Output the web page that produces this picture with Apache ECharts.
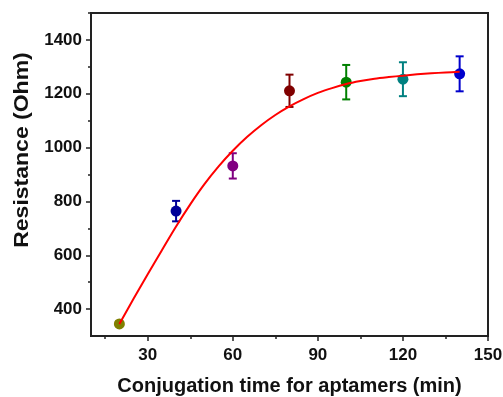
<!DOCTYPE html>
<html>
<head>
<meta charset="utf-8">
<script src="https://cdn.jsdelivr.net/npm/echarts@6/dist/echarts.min.js"></script>
<style>
  html, body { margin: 0; padding: 0; background: #fff; }
  #chart { width: 503px; height: 397px; }
</style>
</head>
<body>
<div id="chart"></div>
<script>
// measured points (min, Ohm, +/- error)
const times = [20, 40, 60, 80, 100, 120, 140]
const resistance = [345, 764, 932, 1211, 1243, 1254, 1274]
const errors = [8, 38, 47, 60, 64, 63, 65]
const pointColors = ['#808000', '#000099', '#800080', '#800000', '#008000', '#008080', '#0000cc']

// fitted curve
const fitTimes = [20, 25, 30, 35, 40, 45, 50, 55, 60, 65, 70, 75, 80, 85, 90, 95, 100, 105, 110, 115, 120, 125, 130, 135, 140]
const fitValues = [345, 438, 529, 619, 707, 789, 864, 930, 988, 1039, 1083, 1121, 1153, 1180, 1203, 1221, 1236, 1247, 1256, 1262, 1267, 1272, 1276, 1279, 1282]

// ticks
const xMajor = [30, 60, 90, 120, 150]
const xMinor = [15, 45, 75, 105, 135]
const yMajor = [400, 600, 800, 1000, 1200, 1400]
const yMinor = [500, 700, 900, 1100, 1300, 1500]

const chart = echarts.init(document.getElementById('chart'))
const font = 'Arial, "Liberation Sans", sans-serif'
const axisColor = '#222'

const baseX = {
  type: 'value', min: 10, max: 150,
  splitLine: { show: false }
}
const baseY = {
  type: 'value', min: 300, max: 1500,
  splitLine: { show: false }
}

const option = {
  backgroundColor: '#fff',
  animation: false,
  grid: {
    left: 91, right: 15, top: 13, bottom: 61,
    outerBoundsMode: 'none',
    containLabel: false,
    show: true, borderColor: axisColor, borderWidth: 2
  },
  xAxis: [
    {
      ...baseX,
      axisLine: { lineStyle: { color: axisColor, width: 2 } },
      axisTick: { inside: false, length: 5, customValues: xMajor, lineStyle: { color: axisColor, width: 1.5 } },
      axisLabel: {
        customValues: xMajor, margin: 11,
        formatter: (v) => String(v),
        color: '#111', fontFamily: font, fontWeight: 'bold', fontSize: 17
      },
      name: 'Conjugation time for aptamers (min)',
      nameLocation: 'middle', nameGap: 40,
      nameTextStyle: { color: '#111', fontFamily: font, fontWeight: 'bold', fontSize: 20 }
    },
    {
      ...baseX,
      position: 'bottom',
      axisLine: { show: false },
      axisTick: { length: 3, customValues: xMinor, lineStyle: { color: axisColor, width: 1.5 } },
      axisLabel: { show: false }
    }
  ],
  yAxis: [
    {
      ...baseY,
      axisLine: { show: true, lineStyle: { color: axisColor, width: 2 } },
      axisTick: { show: true, length: 5, customValues: yMajor, lineStyle: { color: axisColor, width: 1.5 } },
      axisLabel: {
        customValues: yMajor, margin: 9,
        formatter: (v) => String(v),
        color: '#111', fontFamily: font, fontWeight: 'bold', fontSize: 17
      }
    },
    {
      ...baseY,
      position: 'left',
      axisLine: { show: false },
      axisTick: { show: true, length: 3, customValues: yMinor, lineStyle: { color: axisColor, width: 1.5 } },
      axisLabel: { show: false }
    }
  ],
  graphic: [{
    type: 'text',
    x: 22, y: 150,
    rotation: Math.PI / 2,
    scaleX: 1.15,
    style: {
      text: 'Resistance (Ohm)',
      fill: '#111',
      font: 'bold 20px Arial, "Liberation Sans", sans-serif',
      align: 'center', verticalAlign: 'middle'
    }
  }],
  series: [
    {
      type: 'custom',
      z: 3,
      data: times.map((t, i) => [t, resistance[i], errors[i]]),
      renderItem: function (params, api) {
        const x = api.value(0)
        const y = api.value(1)
        const e = api.value(2)
        const top = api.coord([x, y + e])
        const bot = api.coord([x, y - e])
        const c = pointColors[params.dataIndex]
        const cap = 4
        const st = { stroke: c, lineWidth: 2 }
        return {
          type: 'group',
          children: [
            { type: 'line', shape: { x1: top[0], y1: top[1], x2: bot[0], y2: bot[1] }, style: st },
            { type: 'line', shape: { x1: top[0] - cap, y1: top[1], x2: top[0] + cap, y2: top[1] }, style: st },
            { type: 'line', shape: { x1: bot[0] - cap, y1: bot[1], x2: bot[0] + cap, y2: bot[1] }, style: st }
          ]
        }
      }
    },
    {
      type: 'scatter',
      z: 4,
      symbol: 'circle',
      symbolSize: 11,
      data: times.map((t, i) => [t, resistance[i]]),
      itemStyle: {
        opacity: 1,
        color: (p) => pointColors[p.dataIndex]
      }
    },
    {
      type: 'line',
      z: 5,
      smooth: 0.3,
      showSymbol: false,
      symbol: 'none',
      data: fitTimes.map((t, i) => [t, fitValues[i]]),
      lineStyle: { color: '#ff0000', width: 2 }
    }
  ]
}

chart.setOption(option)
</script>
</body>
</html>
